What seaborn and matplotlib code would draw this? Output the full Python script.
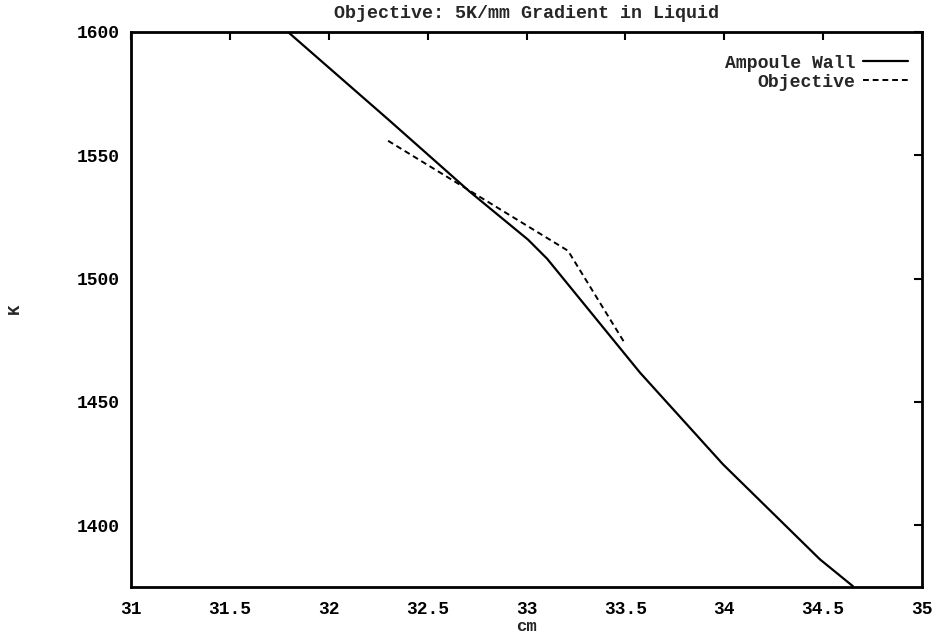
import matplotlib
matplotlib.use("Agg")
import matplotlib.pyplot as plt
import seaborn as sns
import pandas as pd

# Ampoule wall temperature profile (cm, K)
wall_x = [31.794, 32.30, 32.714, 33.008, 33.104, 33.574, 33.994, 34.484, 34.651]
wall_y = [1600.0, 1564.6, 1535.2, 1515.8, 1508.1, 1461.9, 1424.7, 1386.2, 1375.3]

# Objective profile
obj_x = [32.30, 33.21, 33.498]
obj_y = [1555.9, 1511.3, 1473.7]

x_ticks = [31, 31.5, 32, 32.5, 33, 33.5, 34, 34.5, 35]
y_ticks = [1400, 1450, 1500, 1550, 1600]

sns.set_theme(style="white")
plt.rcParams['font.family'] = ['Liberation Mono', 'DejaVu Sans Mono']
plt.rcParams['font.weight'] = 'bold'

fig = plt.figure(figsize=(9.37, 6.4), dpi=100)
ax = fig.add_axes([131/937, 1 - 587/640, (922 - 131)/937, (587 - 32)/640])

df_wall = pd.DataFrame({"x": wall_x, "y": wall_y})
df_obj = pd.DataFrame({"x": obj_x, "y": obj_y})

sns.lineplot(data=df_wall, x="x", y="y", ax=ax, color="black", lw=1.6,
             sort=False, estimator=None, label="Ampoule Wall")
sns.lineplot(data=df_obj, x="x", y="y", ax=ax, color="black", lw=1.4,
             sort=False, estimator=None, label="Objective", linestyle=(0, (3, 2)))

ax.set_xlim(31, 35)
ax.set_ylim(1375, 1600)
ax.set_xticks(x_ticks)
ax.set_xticklabels([f"{t:g}" for t in x_ticks])
ax.set_yticks(y_ticks)
ax.tick_params(direction="in", length=6, width=1.5, top=True, right=True,
               labelsize=12.9, colors="black")
ax.tick_params(axis="x", pad=10)
ax.tick_params(axis="y", pad=8)
for s in ax.spines.values():
    s.set_visible(True)
    s.set_color("black")
    s.set_linewidth(2.0)

ax.set_title("Objective: 5K/mm Gradient in Liquid", fontsize=13.2,
             fontweight="bold", pad=10)
ax.set_xlabel("cm", fontsize=12.5, fontweight="bold", labelpad=1)
ax.set_ylabel("K", fontsize=12.5, fontweight="bold")
ax.yaxis.set_label_coords((22 - 131) / 791, (587 - 309) / 555)

leg = ax.legend(loc="upper right", frameon=False, markerfirst=False,
                fontsize=13.1, handlelength=2.5, handletextpad=0.4,
                borderaxespad=0.8, labelspacing=0.1,
                bbox_to_anchor=(1 + 8/791, 1 - 1/555))
for t in leg.get_texts():
    t.set_ha("right")
    t.set_fontweight("bold")

fig.savefig("out.png", dpi=100, facecolor="white")
